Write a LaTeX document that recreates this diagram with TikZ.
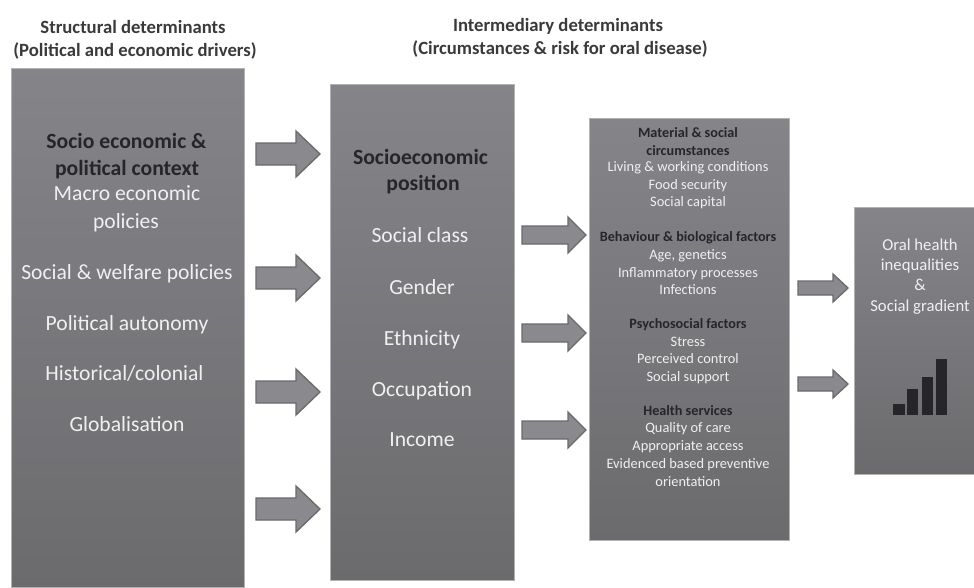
\documentclass[tikz,border=0pt]{standalone}
\usepackage{fontspec}
\setmainfont{Carlito}
\newcommand{\pxfont}[1]{\fontsize{\dimexpr#1pt*3/4\relax}{\dimexpr#1pt\relax}\selectfont}
\definecolor{dk}{HTML}{26262A}
\definecolor{lt}{HTML}{F0F0F1}
\definecolor{ttl}{HTML}{3A3A3C}
\definecolor{boxtop}{HTML}{858488}
\definecolor{boxbot}{HTML}{6B6A6D}
\definecolor{arrowfill}{HTML}{8A898D}
\definecolor{arrowedge}{HTML}{6A696C}
\tikzset{
  x=0.75pt,y=-0.75pt,
  panel/.style={draw=black!30,line width=0.5pt,top color=boxtop,bottom color=boxbot},
  blockarrow/.style={draw=arrowedge,fill=arrowfill,line width=1pt,line join=miter},
  bar/.style={fill=dk,draw=none},
  txt/.style={inner sep=0pt,align=center,anchor=center,execute at begin node=\strut},
  head/.style={txt,yshift=-1.5pt,text=ttl,font=\bfseries\pxfont{18.7}},
  bigb/.style={txt,yshift=-1.5pt,text=dk,font=\bfseries\pxfont{21.7}},
  bigl/.style={txt,yshift=-1.5pt,text=lt,font=\pxfont{21.6}},
  thb/.style={txt,yshift=-0.6pt,text=dk,font=\bfseries\pxfont{14.2}},
  thl/.style={txt,yshift=-0.6pt,text=lt,font=\pxfont{14.4}},
  rtl/.style={txt,yshift=-0.8pt,text=lt,font=\pxfont{16.7}},
}
% block arrow: left x, right x, centre y, half head, half shaft, head length
\newcommand{\blockarrow}[6]{%
  \draw[blockarrow] (#1,#3-#5) -- (#2-#6,#3-#5) -- (#2-#6,#3-#4) -- (#2,#3)
    -- (#2-#6,#3+#4) -- (#2-#6,#3+#5) -- (#1,#3+#5) -- cycle;}
\begin{document}
\begin{tikzpicture}
\useasboundingbox (0,0) rectangle (974,587);
\fill[white] (0,0) rectangle (974,587);
% panels
\path[panel] (11,68) rectangle (244,587);
\path[panel] (330,84) rectangle (514,580);
\path[panel] (589,118) rectangle (789,540);
\path[panel] (854,207) rectangle (974,474);
% headings
\node[head] (h1) at (133,27) {Structural determinants};
\node[head] (h2) at (135,50) {(Political and economic drivers)};
\node[head] (h3) at (558,25) {Intermediary determinants};
\node[head] (h4) at (560,48) {(Circumstances \& risk for oral disease)};
% left panel
\node[bigb] (a1) at (126.5,141) {Socio economic \&};
\node[bigb] (a2) at (127,168) {political context};
\node[bigl] (a3) at (127,193) {Macro economic};
\node[bigl] (a4) at (126,221) {policies};
\node[bigl] (a5) at (127,272) {Social \& welfare policies};
\node[bigl] (a6) at (127,323) {Political autonomy};
\node[bigl] (a7) at (124.5,373) {Historical/colonial};
\node[bigl] (a8) at (127,424) {Globalisation};
% middle panel
\node[bigb] (b1) at (420.5,157) {Socioeconomic};
\node[bigb] (b2) at (423,183) {position};
\node[bigl] (b3) at (420,235) {Social class};
\node[bigl] (b4) at (422,287) {Gender};
\node[bigl] (b5) at (422,338) {Ethnicity};
\node[bigl] (b6) at (422,389) {Occupation};
\node[bigl] (b7) at (422,439) {Income};
% third panel
\node[thb] (c1) at (688,133) {Material \& social};
\node[thb] (c2) at (688,151) {circumstances};
\node[thl] (c3) at (688,167) {Living \& working conditions};
\node[thl] (c4) at (688,185) {Food security};
\node[thl] (c5) at (688,202) {Social capital};
\node[thb] (c6) at (688,237) {Behaviour \& biological factors};
\node[thl] (c7) at (688,255) {Age, genetics};
\node[thl] (c8) at (688,273) {Inflammatory processes};
\node[thl] (c9) at (688,290) {Infections};
\node[thb] (c10) at (688,324) {Psychosocial factors};
\node[thl] (c11) at (688,342) {Stress};
\node[thl] (c12) at (688,359) {Perceived control};
\node[thl] (c13) at (688,377) {Social support};
\node[thb] (c14) at (688,411) {Health services};
\node[thl] (c15) at (688,428) {Quality of care};
\node[thl] (c16) at (688,446) {Appropriate access};
\node[thl] (c17) at (688,464) {Evidenced based preventive};
\node[thl] (c18) at (688,482) {orientation};
% right panel
\node[rtl] (d1) at (920,245) {Oral health};
\node[rtl] (d2) at (920,265) {inequalities};
\node[rtl] (d3) at (920,285) {\&};
\node[rtl] (d4) at (920,306) {Social gradient};
% bars
\fill[bar] (893,404) rectangle (905,415);
\fill[bar] (907,389) rectangle (918,415);
\fill[bar] (922,377) rectangle (933,415);
\fill[bar] (936,359) rectangle (947,415);
% block arrows
\blockarrow{256}{320}{154}{23}{11}{24}
\blockarrow{256}{320}{278}{23}{11}{24}
\blockarrow{256}{320}{392}{23}{11}{24}
\blockarrow{256}{320}{509}{23}{11}{24}
\blockarrow{522}{586}{235}{18}{9}{18}
\blockarrow{522}{586}{333}{18}{9}{18}
\blockarrow{522}{586}{430}{18}{9}{18}
\blockarrow{798}{848}{288}{14}{7}{15}
\blockarrow{798}{848}{384}{14}{7}{15}
\end{tikzpicture}
\end{document}
